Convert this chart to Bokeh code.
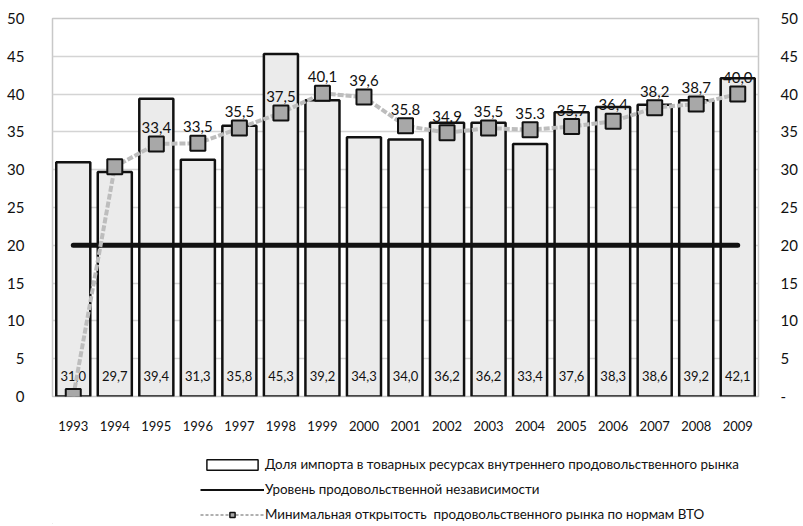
from bokeh.plotting import figure
from bokeh.layouts import column
from bokeh.models import (ColumnDataSource, LinearAxis, Legend, LegendItem,
                          FixedTicker, Range1d)
from bokeh.core.properties import value
from bokeh.embed import file_html
from bokeh.resources import INLINE

years = ["1993", "1994", "1995", "1996", "1997", "1998", "1999", "2000", "2001",
         "2002", "2003", "2004", "2005", "2006", "2007", "2008", "2009"]
import_share = [31.0, 29.7, 39.4, 31.3, 35.8, 45.3, 39.2, 34.3, 34.0,
                36.2, 36.2, 33.4, 37.6, 38.3, 38.6, 39.2, 42.1]
import_labels = ["31,0", "29,7", "39,4", "31,3", "35,8", "45,3", "39,2", "34,3", "34,0",
                 "36,2", "36,2", "33,4", "37,6", "38,3", "38,6", "39,2", "42,1"]
independence = [20, 20, 20, 20, 20, 20, 20, 20, 20, 20, 20, 20, 20, 20, 20, 20, 20]
wto_min = [0.0, 30.4, 33.4, 33.5, 35.5, 37.5, 40.1, 39.6, 35.8,
           34.9, 35.5, 35.3, 35.7, 36.4, 38.2, 38.7, 40.0]
wto_labels = ["", "", "33,4", "33,5", "35,5", "37,5", "40,1", "39,6", "35.8",
              "34.9", "35,5", "35.3", "35,7", "36,4", "38,2", "38,7", "40,0"]
y_ticks = [0, 5, 10, 15, 20, 25, 30, 35, 40, 45, 50]
legend_labels = ["Доля импорта в товарных ресурсах внутреннего продовольственного рынка",
                 "Уровень продовольственной независимости",
                 "Минимальная открытость  продовольственного рынка по нормам ВТО"]

FONT = "Lato"
INK = "#111111"

src = ColumnDataSource(dict(years=years, share=import_share, share_lbl=import_labels,
                            indep=independence, wto=wto_min, wto_lbl=wto_labels,
                            zero=[0] * len(years)))

p = figure(x_range=years, y_range=Range1d(0, 50), width=803, height=440,
           output_backend="svg", toolbar_location=None,
           min_border_left=52, min_border_right=45, min_border_top=18,
           min_border_bottom=44)
p.background_fill_color = "white"
p.border_fill_color = "white"
p.outline_line_color = "#c8c8c8"
p.outline_line_width = 1.5

p.vbar(x="years", top="share", width=0.82, source=src,
       fill_color="#ebebeb", line_color=INK, line_width=2.5)
p.text(x="years", y="zero", text="share_lbl", source=src, y_offset=-21,
       text_align="center", text_baseline="middle", text_font=value(FONT),
       text_font_size="13px", text_color=INK)

p.line(x="years", y="indep", source=src, line_color=INK, line_width=5,
       line_cap="round")

p.line(x="years", y="wto", source=src, line_color="#bdbdbd", line_width=4,
       line_dash="6 2")
p.scatter(x="years", y="wto", source=src, marker="square", size=15,
          fill_color="#a8a8a8", line_color=INK, line_width=2)
p.text(x="years", y="wto", text="wto_lbl", source=src, y_offset=-11,
       text_align="center", text_baseline="bottom", text_font=value(FONT),
       text_font_size="15px", text_color=INK)

# axes
p.yaxis.ticker = FixedTicker(ticks=y_ticks)
for ax in [p.yaxis[0], p.xaxis[0]]:
    ax.axis_line_color = None
    ax.major_tick_line_color = None
    ax.minor_tick_line_color = None
    ax.major_label_text_font = FONT
    ax.major_label_text_color = INK
p.yaxis.major_label_text_font_size = "15px"
p.yaxis.major_label_standoff = 22
p.xaxis.major_label_text_font_size = "13px"
p.xaxis.major_label_standoff = 18

ry = LinearAxis(ticker=FixedTicker(ticks=y_ticks), axis_line_color=None,
                major_tick_line_color=None, minor_tick_line_color=None,
                major_label_text_font=FONT, major_label_text_font_size="15px",
                major_label_text_color=INK, major_label_standoff=16,
                major_label_overrides={0: "-"})
p.add_layout(ry, "right")

p.xgrid.grid_line_color = None
p.ygrid.ticker = FixedTicker(ticks=y_ticks)
p.ygrid.grid_line_color = "#d4d4d4"
p.ygrid.grid_line_width = 1.5

# legend figure below the chart
lg = figure(width=803, height=84, x_range=Range1d(0, 1), y_range=Range1d(0, 1),
            output_backend="svg", toolbar_location=None, min_border=0,
            x_axis_location=None, y_axis_location=None)
lg.outline_line_color = None
lg.grid.grid_line_color = None
offscreen = ColumnDataSource(dict(x=[-10.0], y=[-10.0]))
leg_bar = lg.vbar(x="x", top="y", width=0.8, source=offscreen, fill_color="white",
                  line_color=INK, line_width=1.5)
leg_line = lg.line(x="x", y="y", source=offscreen, line_color=INK, line_width=2)
leg_wto_l = lg.line(x="x", y="y", source=offscreen, line_color="#b0b0b0", line_width=2,
                    line_dash="3 2")
leg_wto_p = lg.scatter(x="x", y="y", source=offscreen, marker="square", size=9,
                       fill_color="#a8a8a8", line_color=INK, line_width=1.5)

legend = Legend(items=[
    LegendItem(label=legend_labels[0], renderers=[leg_bar]),
    LegendItem(label=legend_labels[1], renderers=[leg_line]),
    LegendItem(label=legend_labels[2], renderers=[leg_wto_l, leg_wto_p]),
], location=(148, 2), orientation="vertical", border_line_color=None,
    background_fill_alpha=0, label_text_font=FONT, label_text_font_size="13.4px",
    label_text_color=INK, glyph_width=64, glyph_height=13, label_height=13,
    spacing=9, padding=0, margin=0, label_standoff=1)
lg.add_layout(legend, "center")

open("out.html", "w").write(file_html(column(p, lg), INLINE))
